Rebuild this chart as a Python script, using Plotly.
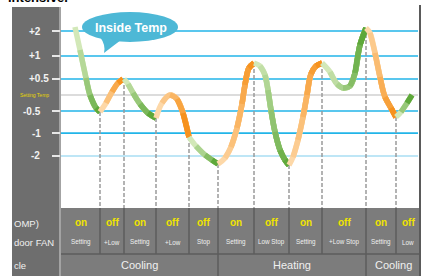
import plotly.graph_objects as go

W, H = 424, 276

# ---- data (schematic temperature levels, 0 = setting temperature) ----
tick_labels = ["+2", "+1", "+0.5", "Setting Temp", "-0.5", "-1", "-2"]
tick_levels = [4.0, 2.44, 1.0, 0.0, -1.0, -2.38, -3.81]

# event times where the compressor / fan state changes
event_t = [100, 124, 156, 189, 218, 254, 289, 322, 366, 396]
event_level = [-1.06, 1.0, -1.44, -2.63, -4.31, 2.0, -4.38, 2.0, 4.19, -1.38]

# inside temperature curve, segment by segment
seg1_x = [75, 80, 86, 90, 96, 100]
seg1_y = [4.25, 2.81, 1.06, 0.0, -0.81, -1.06]
seg2_x = [100, 106, 112, 118, 123]
seg2_y = [-1.06, -0.5, 0.19, 0.75, 1.0]
seg3_x = [124, 128, 133, 140, 148, 156]
seg3_y = [1.0, 0.69, 0.13, -0.56, -1.13, -1.44]
seg4_x = [156, 162, 170, 177, 183, 189]
seg4_y = [-1.44, -0.5, 0.0, -0.25, -1.13, -2.63]
seg5_x = [189, 196, 205, 212, 218]
seg5_y = [-2.63, -3.19, -3.75, -4.06, -4.31]
seg6_x = [218, 225, 231, 237, 242, 245, 249, 254]
seg6_y = [-4.31, -3.94, -3.25, -2.06, -0.56, 0.63, 1.69, 2.0]
seg7_x = [254, 260, 265, 268, 271, 275, 280, 285, 289]
seg7_y = [2.0, 1.81, 1.25, 0.31, -0.94, -2.31, -3.44, -4.06, -4.38]
seg8_x = [289, 293, 298, 303, 307, 311, 316, 322]
seg8_y = [-4.38, -3.88, -2.81, -1.38, 0.0, 1.31, 1.81, 2.0]
seg9_x = [322, 330, 337, 343, 350, 355, 360, 366]
seg9_y = [2.0, 1.44, 0.69, 0.44, 0.56, 1.38, 3.13, 4.19]
seg10_x = [366, 370, 375, 380, 385, 391, 396]
seg10_y = [4.19, 3.88, 2.63, 1.13, -0.13, -0.81, -1.38]
seg11_x = [396, 401, 407, 412]
seg11_y = [-1.38, -1.06, -0.5, 0.0]

segments = [
    (seg1_x, seg1_y, "green"), (seg2_x, seg2_y, "orange"), (seg3_x, seg3_y, "green"),
    (seg4_x, seg4_y, "orange"), (seg5_x, seg5_y, "green"), (seg6_x, seg6_y, "orange"),
    (seg7_x, seg7_y, "green"), (seg8_x, seg8_y, "orange"), (seg9_x, seg9_y, "green"),
    (seg10_x, seg10_y, "orange"), (seg11_x, seg11_y, "green"),
]

comp_state = ["on", "off", "on", "off", "off", "on", "off", "on", "off", "on", "off"]
fan_state = ["Setting", "+Low", "Setting", "+Low", "Stop", "Setting", "Low Stop",
             "Setting", "+Low Stop", "Setting", "Low"]
cycle_names = ["Cooling", "Heating", "Cooling"]
cycle_break_idx = [4, 8]  # indices into event_t where the cycle changes
row_names = ["OMP)", "door FAN", "cle"]

# ---- geometry helpers (layout only) ----
X0, X1 = 61, 420          # plot area in pixels
Y_SET, PX_PER_LEVEL = 95, 16
TABLE_TOP, ROW_SPLIT = 208, 254


def px(x):
    return x / W


def py(y):
    return 1 - y / H


def lvl(y):
    return (Y_SET - y) / PX_PER_LEVEL


def mix(c1, c2, t):
    a = [int(c1[i:i + 2], 16) for i in (1, 3, 5)]
    b = [int(c2[i:i + 2], 16) for i in (1, 3, 5)]
    return "#" + "".join(f"{round(a[k] + (b[k] - a[k]) * t):02x}" for k in range(3))


palette = {"green": ("#d2e8b8", "#5ea83a"), "orange": ("#fdd8a8", "#f6921e")}

fig = go.Figure()

# horizontal reference lines
grid_colors = ["#22b5e8", "#22b5e8", "#22b5e8", "#d0d0d0", "#22b5e8", "#22b5e8", "#a8def3"]
for lv, col in zip(tick_levels, grid_colors):
    fig.add_trace(go.Scatter(x=[X0, 418], y=[lv, lv], mode="lines",
                             line=dict(color=col, width=1.6), hoverinfo="skip",
                             showlegend=False))

# dashed verticals from each event down to the table
for t, lv in zip(event_t, event_level):
    fig.add_trace(go.Scatter(x=[t, t], y=[lv, lvl(TABLE_TOP)], mode="lines",
                             line=dict(color="#9b9b9b", width=1.5, dash="4px,2px"),
                             hoverinfo="skip", showlegend=False))

# temperature curve with light->dark shading per segment
for sx, sy, kind in segments:
    light, dark = palette[kind]
    n = len(sx)
    for k in range(n - 1):
        t = k / max(n - 2, 1)
        fig.add_trace(go.Scatter(x=sx[k:], y=sy[k:], mode="lines",
                                 line=dict(color=mix(light, dark, t), width=5.5,
                                           shape="spline", smoothing=1.0),
                                 hoverinfo="skip", showlegend=False))

shapes = []
# left dark panel
shapes.append(dict(type="rect", xref="paper", yref="paper", x0=px(12), x1=px(61),
                   y0=0, y1=py(7), fillcolor="#6e6e6e", line_width=0, layer="below"))
shapes.append(dict(type="line", xref="paper", yref="paper", x0=px(60), x1=px(60),
                   y0=0, y1=py(7), line=dict(color="#a3a3a3", width=2), layer="below"))
# table background
shapes.append(dict(type="rect", xref="paper", yref="paper", x0=px(X0), x1=px(X1),
                   y0=0, y1=py(TABLE_TOP), fillcolor="#7c7c7c", line_width=0, layer="below"))
shapes.append(dict(type="line", xref="paper", yref="paper", x0=px(X0), x1=px(X1),
                   y0=py(ROW_SPLIT), y1=py(ROW_SPLIT), line=dict(color="#5c5c5c", width=1.5),
                   layer="below"))
for t in event_t:
    shapes.append(dict(type="line", xref="x", yref="paper", x0=t, x1=t,
                       y0=py(ROW_SPLIT), y1=py(TABLE_TOP), line=dict(color="#5c5c5c", width=1.5),
                       layer="below"))
for i in cycle_break_idx:
    shapes.append(dict(type="line", xref="x", yref="paper", x0=event_t[i], x1=event_t[i],
                       y0=0, y1=py(ROW_SPLIT), line=dict(color="#5c5c5c", width=1.5),
                       layer="below"))
# right border
shapes.append(dict(type="line", xref="paper", yref="paper", x0=px(420), x1=px(420),
                   y0=0, y1=py(5), line=dict(color="#5a5a5a", width=2), layer="below"))
# speech bubble
shapes.append(dict(type="circle", xref="paper", yref="paper", x0=px(82), x1=px(178),
                   y0=py(42), y1=py(12), fillcolor="#4db8d6", line_width=0))
tail = [(100, 37), (106, 45), (104, 53), (113, 46), (121, 40)]
path = (f"M {px(tail[0][0])},{py(tail[0][1])} "
        f"Q {px(tail[1][0])},{py(tail[1][1])} {px(tail[2][0])},{py(tail[2][1])} "
        f"Q {px(tail[3][0])},{py(tail[3][1])} {px(tail[4][0])},{py(tail[4][1])} Z")
shapes.append(dict(type="path", xref="paper", yref="paper", path=path,
                   fillcolor="#4db8d6", line_width=0))

ann = []
FONT = "Liberation Sans"


def note(text, x, y, size, color, xanchor="center", xref="paper"):
    ann.append(dict(text=text, x=x, y=py(y), xref=xref, yref="paper",
                    xanchor=xanchor, yanchor="middle", showarrow=False,
                    font=dict(family=FONT, size=size, color=color)))


note("<b>Inside Temp</b>", px(131), 28, 12.5, "white")
note("<b>intensive.</b>", px(6), -2, 13, "black", xanchor="left")

# y tick labels (placed as in the reference)
label_x = {"+2": 27, "+1": 27, "+0.5": 27, "-0.5": 21, "-1": 30, "-2": 29}
for lab, lv in zip(tick_labels, tick_levels):
    yy = Y_SET - lv * PX_PER_LEVEL
    if lab == "Setting Temp":
        note(lab, px(34), yy, 5, "#e8d600")
    else:
        note("<b>" + lab + "</b>", px(label_x[lab]), yy, 10, "#f2f2f2", xanchor="left")

# table text
edges = [X0] + event_t + [X1]
for i in range(len(comp_state)):
    cx = (edges[i] + edges[i + 1]) / 2
    note("<b>" + comp_state[i] + "</b>", cx, 222, 10, "#f0e400", xref="x")
    note(fan_state[i], cx, 242, 6.3, "#f0f0f0", xref="x")
cyc_edges = [X0] + [event_t[i] for i in cycle_break_idx] + [X1]
for i, name in enumerate(cycle_names):
    note(name, (cyc_edges[i] + cyc_edges[i + 1]) / 2, 265, 11, "#f0f0f0", xref="x")
for name, yy in zip(row_names, [223, 242, 265]):
    note(name, px(12), yy, 9.5, "#f0f0f0", xanchor="left")

fig.update_layout(
    width=W, height=H, margin=dict(l=0, r=0, t=0, b=0),
    paper_bgcolor="white", plot_bgcolor="rgba(0,0,0,0)",
    shapes=shapes, annotations=ann, showlegend=False,
    xaxis=dict(domain=[px(X0), px(X1)], range=[X0, X1], visible=False, fixedrange=True),
    yaxis=dict(domain=[0, 1], range=[lvl(H), lvl(0)], showgrid=False, zeroline=False,
               showline=False, ticks="outside", ticklen=8, tickwidth=1.5,
               tickcolor="#e6e6e6", showticklabels=False,
               tickvals=[v for l, v in zip(tick_labels, tick_levels) if l != "Setting Temp"],
               fixedrange=True),
)

fig.write_html("out.html", config={"displayModeBar": False, "staticPlot": True},
               post_script="document.body.style.margin='0';document.body.style.overflow='hidden';")
